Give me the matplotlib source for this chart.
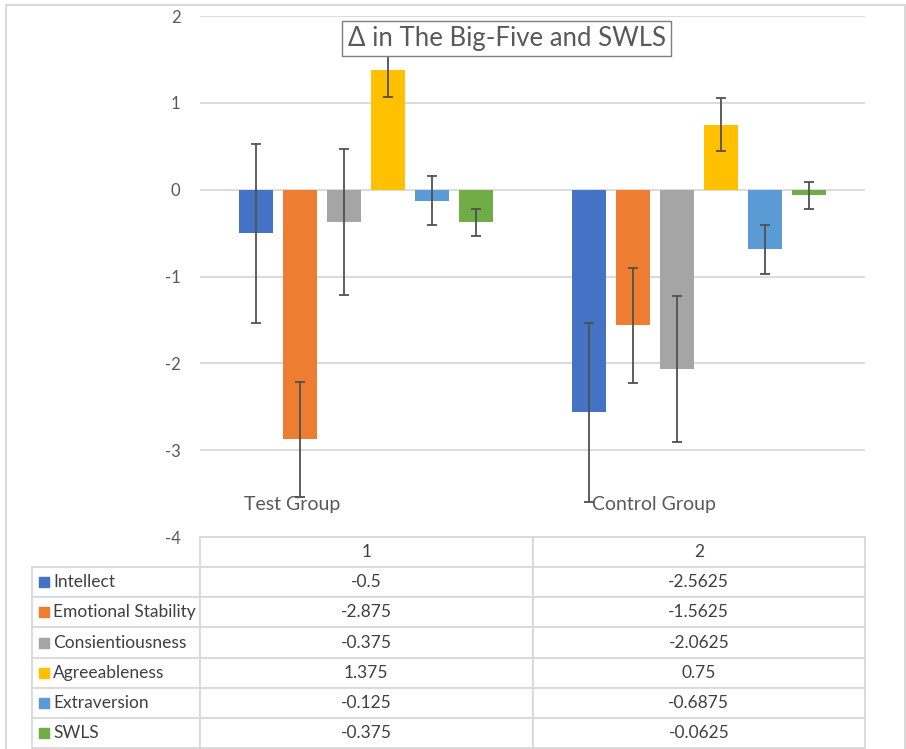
import matplotlib
matplotlib.use('Agg')
import matplotlib.pyplot as plt
from matplotlib.patches import Rectangle
import numpy as np

# data
groups = ['Test Group', 'Control Group']
col_labels = ['1', '2']
traits = ['Intellect', 'Emotional Stability', 'Consientiousness',
          'Agreeableness', 'Extraversion', 'SWLS']
test_vals = [-0.5, -2.875, -0.375, 1.375, -0.125, -0.375]
control_vals = [-2.5625, -1.5625, -2.0625, 0.75, -0.6875, -0.0625]
errors = [1.03, 0.66, 0.84, 0.31, 0.28, 0.155]
colors = ['#4472C4', '#ED7D31', '#A5A5A5', '#FFC000', '#5B9BD5', '#70AD47']

plt.rcParams['font.family'] = ['Lato', 'DejaVu Sans']
plt.rcParams['axes.unicode_minus'] = False

W, H = 906, 749
fig = plt.figure(figsize=(W / 100, H / 100), dpi=100)
ax = fig.add_axes([200 / W, (H - 537) / H, 665 / W, 521 / H])

x = np.arange(len(groups))
step = 0.1325
width = 0.1025
for i, trait in enumerate(traits):
    vals = [test_vals[i], control_vals[i]]
    ax.bar(x + (i - 2.5) * step, vals, width, color=colors[i], zorder=3,
           yerr=errors[i],
           error_kw=dict(ecolor='#505050', elinewidth=1.3, capsize=3.6, capthick=1.3, zorder=4))

ax.set_xlim(-0.5, 1.5)
ax.set_ylim(-4, 2)
ax.set_yticks(range(-4, 3))
ax.set_xticks([])
ax.yaxis.grid(True, color='#d9d9d9', linewidth=1.3)
ax.set_axisbelow(True)
for s in ax.spines.values():
    s.set_visible(False)
ax.tick_params(axis='y', length=0, pad=14, labelsize=12, labelcolor='#595959')

# category labels sit low in the plot, as in the original
label_x = [-0.368, 0.679]
for lx, g in zip(label_x, groups):
    ax.text(lx, -3.63, g, ha='left', va='center', fontsize=14, color='#595959', zorder=2)

# data table under the chart
cell_text = [[f'{a:g}', f'{b:g}'] for a, b in zip(test_vals, control_vals)]
tbl = ax.table(cellText=cell_text, rowLabels=traits, colLabels=col_labels,
               cellLoc='center', rowLoc='left', colWidths=[0.5, 0.5],
               bbox=[0, -211 / 521, 1, 211 / 521])
tbl.auto_set_font_size(False)
tbl._autoColumns = []
for (r, c), cell in tbl.get_celld().items():
    cell.set_clip_on(False)
    cell.set_edgecolor('#d9d9d9')
    cell.set_linewidth(1.3)
    cell.get_text().set_fontsize(12.5)
    cell.get_text().set_color('#404040')
    if c == -1:
        cell.set_width(168 / 665)
        cell.PAD = 0.125

rowh = 211 / 521 / 7
for r in range(len(traits)):
    ax.scatter([(43.5 - 200) / 665], [-(r + 1.5) * rowh], marker='s', s=52,
               color=colors[r], transform=ax.transAxes, clip_on=False, zorder=5)

fig.text(506.5 / W, 1 - 38.5 / H, 'Δ in The Big-Five and SWLS', ha='center', va='center',
         fontsize=18.5, color='#595959', zorder=10,
         bbox=dict(boxstyle='square,pad=0.2', fc='white', ec='#7f7f7f', lw=1))

fig.patches.append(Rectangle((6 / W, -0.01), (905 - 6) / W, (H - 5) / H + 0.01,
                             transform=fig.transFigure, fill=False,
                             edgecolor='#d9d9d9', linewidth=1.5))

fig.savefig('out.png', dpi=100)
